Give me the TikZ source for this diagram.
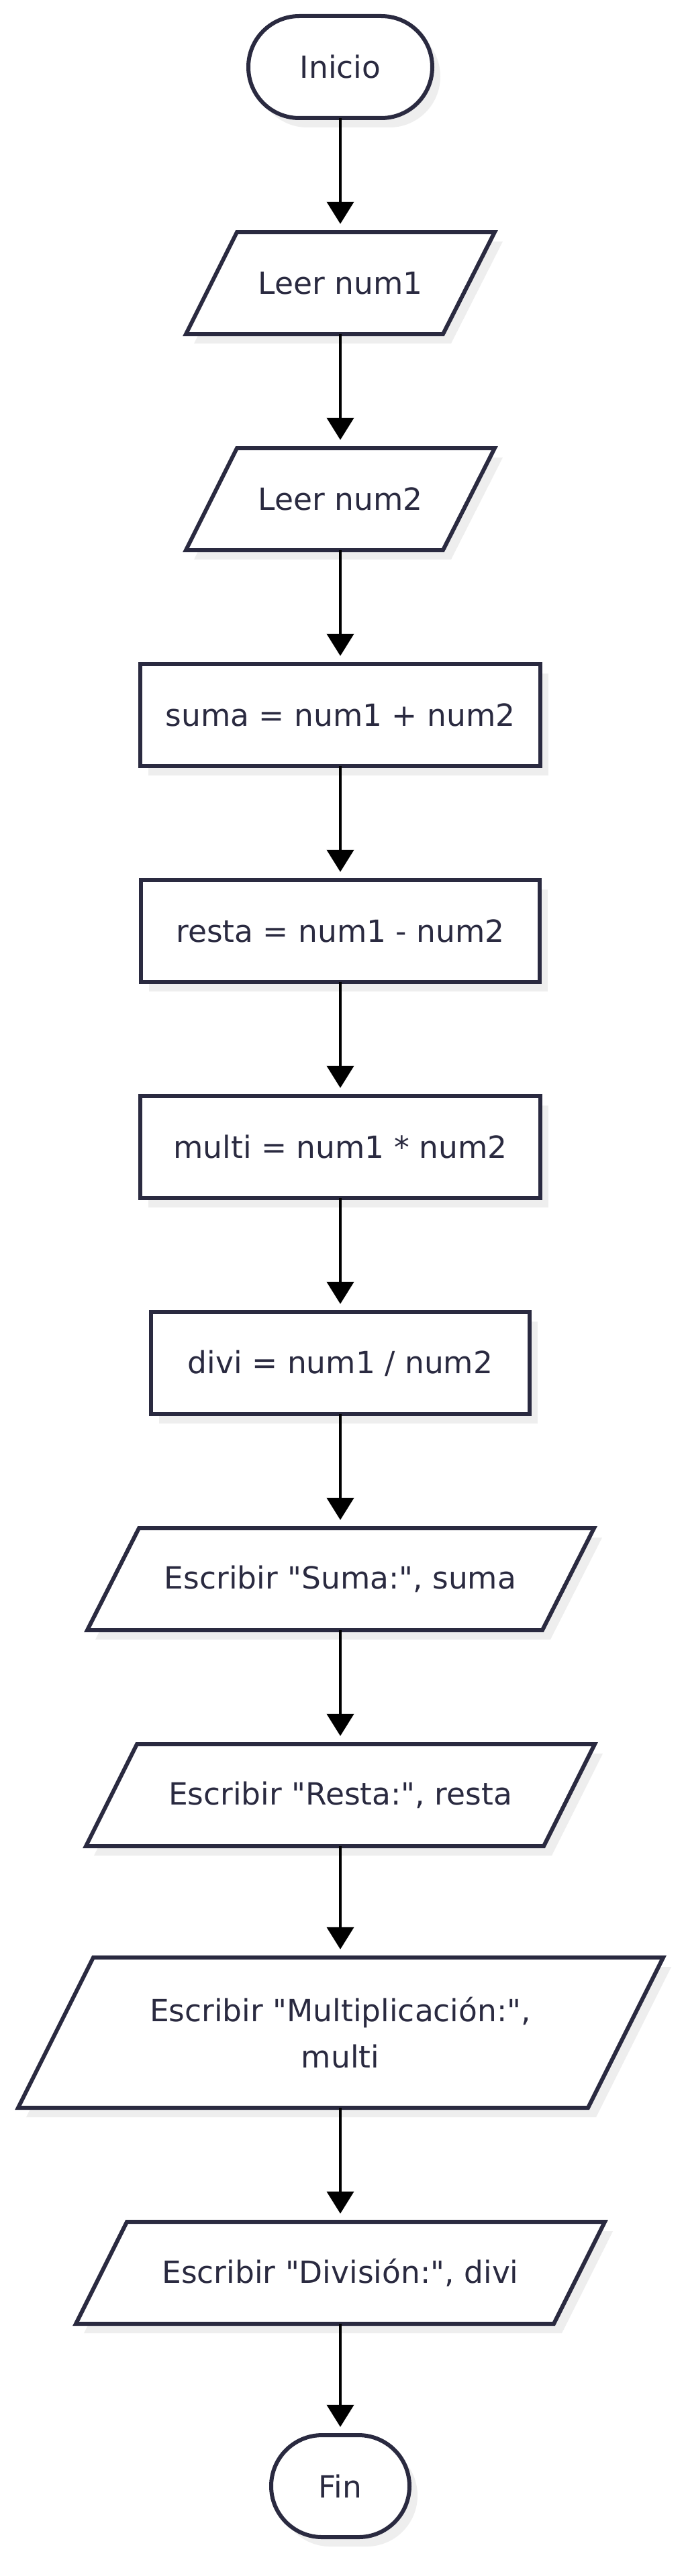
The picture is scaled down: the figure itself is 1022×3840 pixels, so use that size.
\documentclass[tikz,border=0pt]{standalone}
\usepackage{fontspec}
\setmainfont{DejaVu Sans}[Ligatures=TeXOff]
\usetikzlibrary{arrows.meta}
\definecolor{ink}{HTML}{2A2A40}
\definecolor{shade}{HTML}{EEEEEE}
\newcommand\dq{{\char34}}
\tikzset{
  shapeline/.style={draw=ink, fill=white, line width=6pt, line join=miter},
  shadowfill/.style={fill=shade},
  txt/.style={font=\fontsize{45.5}{69}\selectfont, text=ink, align=center, inner sep=0pt, minimum height=152pt},
  edge/.style={line width=4pt, draw=black, -{Triangle[width=40pt,length=33pt]}, shorten >=12pt}
}
% parallelogram: topY botY blX brX tlX trX
\newcommand\ParaShape[6]{%
  \fill[shadowfill] ({#3+12},{#2+14}) -- ({#4+12},{#2+14}) -- ({#6+12},{#1+14}) -- ({#5+12},{#1+14}) -- cycle;
  \path[shapeline] (#3,#2) -- (#4,#2) -- (#6,#1) -- (#5,#1) -- cycle;}
% rectangle: leftX topY rightX botY
\newcommand\RectShape[4]{%
  \fill[shadowfill] ({#1+12},{#2+14}) rectangle ({#3+12},{#4+14});
  \path[shapeline] (#1,#2) rectangle (#3,#4);}
% stadium: leftX topY rightX botY
\newcommand\StadShape[4]{%
  \fill[shadowfill, rounded corners=75.9pt] ({#1+12},{#2+14}) rectangle ({#3+12},{#4+14});
  \path[shapeline, rounded corners=75.9pt] (#1,#2) rectangle (#3,#4);}
\begin{document}
\begin{tikzpicture}[x=1pt, y=-1pt]
\useasboundingbox (0,0) rectangle (1022,3840);
\fill[white] (0,0) rectangle (1022,3840);

% shapes
\StadShape{370}{24}{644}{176}
\ParaShape{346}{498}{277}{660}{353}{737}
\ParaShape{668}{820}{277}{660}{353}{737}
\RectShape{209}{990}{805}{1142}
\RectShape{210}{1312}{804}{1464}
\RectShape{209}{1634}{805}{1786}
\RectShape{225}{1956}{789}{2108}
\ParaShape{2278}{2430}{130}{808}{207}{885}
\ParaShape{2600}{2752}{128}{810}{204}{886}
\ParaShape{2918}{3142}{27}{876}{139}{988}
\ParaShape{3312}{3464}{113}{825}{189}{901}
\StadShape{404}{3630}{610}{3782}

% texts
\node[txt] (inicio) at (507,100) {Inicio};
\node[txt] (leer1) at (507,422) {Leer num1};
\node[txt] (leer2) at (507,744) {Leer num2};
\node[txt] (suma) at (507,1066) {suma = num1 + num2};
\node[txt] (resta) at (507,1388) {resta = num1 - num2};
\node[txt] (multi) at (507,1710) {multi = num1 * num2};
\node[txt] (divi) at (507,2032) {divi = num1 / num2};
\node[txt] (esuma) at (507,2354) {Escribir \dq Suma:\dq, suma};
\node[txt] (eresta) at (507,2676) {Escribir \dq Resta:\dq, resta};
\node[txt, minimum height=224pt] (emulti) at (507,3030) {Escribir \dq Multiplicación:\dq,\\multi};
\node[txt] (ediv) at (507,3388) {Escribir \dq División:\dq, divi};
\node[txt] (fin) at (507,3706) {Fin};

% connectors
\draw[edge] (inicio.south) -- (leer1.north);
\draw[edge] (leer1.south) -- (leer2.north);
\draw[edge] (leer2.south) -- (suma.north);
\draw[edge] (suma.south) -- (resta.north);
\draw[edge] (resta.south) -- (multi.north);
\draw[edge] (multi.south) -- (divi.north);
\draw[edge] (divi.south) -- (esuma.north);
\draw[edge] (esuma.south) -- (eresta.north);
\draw[edge] (eresta.south) -- (emulti.north);
\draw[edge] (emulti.south) -- (ediv.north);
\draw[edge] (ediv.south) -- (fin.north);
\end{tikzpicture}
\end{document}
